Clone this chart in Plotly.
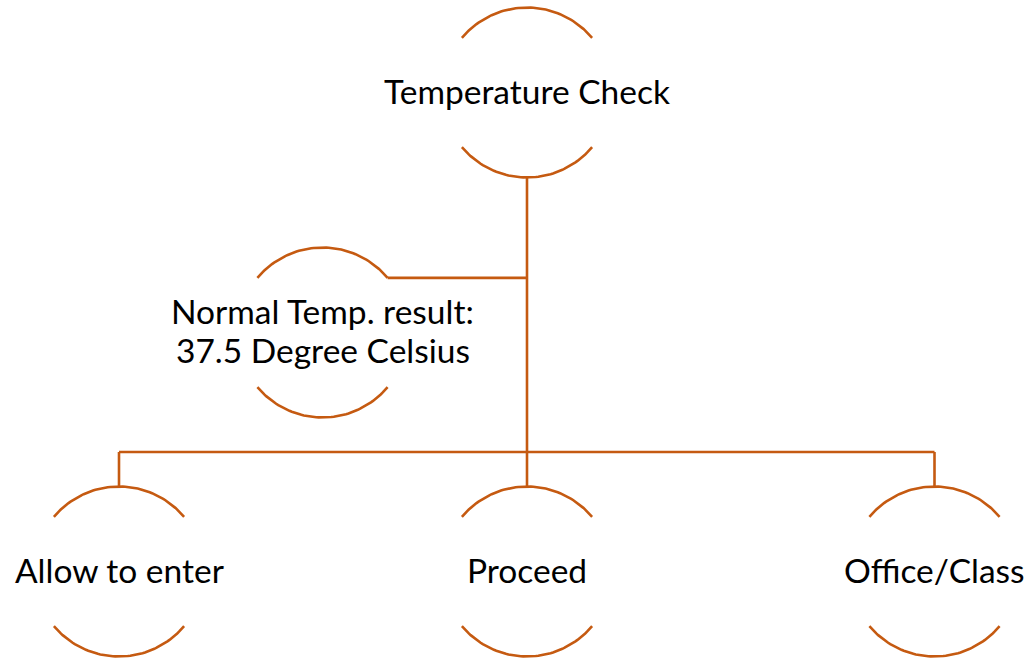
import numpy as np
import plotly.graph_objects as go

# Diagram content
node_labels = ["Temperature Check", "Normal Temp. result:\n37.5 Degree Celsius",
               "Allow to enter", "Proceed", "Office/Class"]
node_parent = [None, 0, 0, 0, 0]

# Layout (page-pixel coordinates, y downward)
W, H = 1029, 658
node_cx = [527, 322.5, 119, 527, 934.5]
node_cy = [92.5, 332.5, 571.5, 571.5, 571.5]
R = 85
LINE = "#C55A11"
FONT = "Lato"
FSIZE = 33.5
LINE_GAP = 39
TEXT_DY = -2

fig = go.Figure()

def add_line(xs, ys):
    fig.add_trace(go.Scatter(x=xs, y=ys, mode="lines",
                             line=dict(color=LINE, width=2.6),
                             hoverinfo="skip", showlegend=False))

# arcs for each node
for cx, cy in zip(node_cx, node_cy):
    t = np.radians(np.linspace(40, 140, 60))
    add_line(list(cx + R * np.cos(t)), list(cy - R * np.sin(t)))
    t = np.radians(np.linspace(220, 320, 60))
    add_line(list(cx + R * np.cos(t)), list(cy - R * np.sin(t)))

# connectors
root_x, root_bottom = node_cx[0], node_cy[0] + R
bus_y = 452
add_line([root_x, root_x], [root_bottom, bus_y])
side_y = node_cy[1] - R * np.sin(np.radians(40))
add_line([node_cx[1] + R * np.cos(np.radians(40)), root_x], [side_y, side_y])
child_idx = [i for i, p in enumerate(node_parent) if p == 0 and i != 1]
add_line([node_cx[child_idx[0]], node_cx[child_idx[-1]]], [bus_y, bus_y])
for i in child_idx:
    add_line([node_cx[i], node_cx[i]], [bus_y, node_cy[i] - R])

for lbl, cx, cy in zip(node_labels, node_cx, node_cy):
    lines = lbl.split("\n")
    n = len(lines)
    for k, ln in enumerate(lines):
        y = cy + (k - (n - 1) / 2) * LINE_GAP
        fig.add_annotation(x=cx, y=y + TEXT_DY, text=ln, showarrow=False,
                           xanchor="center", yanchor="middle",
                           font=dict(family=FONT, size=FSIZE, color="#000000"))

fig.update_layout(width=W, height=H, margin=dict(l=0, r=0, t=0, b=0),
                  paper_bgcolor="white", plot_bgcolor="white",
                  xaxis=dict(range=[0, W], visible=False, fixedrange=True),
                  yaxis=dict(range=[H, 0], visible=False, fixedrange=True))
fig.write_html("out.html", config={"displayModeBar": False, "staticPlot": True},
               post_script="document.body.style.margin='0px';"
                           "document.body.style.overflow='hidden';")
